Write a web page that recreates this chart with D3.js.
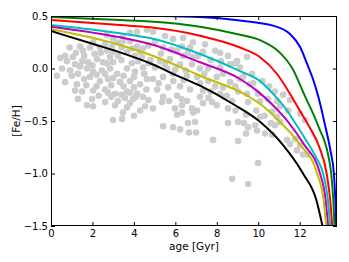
<!DOCTYPE html>
<html><head><meta charset="utf-8">
<script src="https://cdn.jsdelivr.net/npm/d3@7"></script>
<style>body{margin:0;background:#fff;} text{font-family:"DejaVu Sans",sans-serif;fill:#000;}</style>
</head><body><svg id="c" width="349" height="262"></svg>
<script>
const xTicks=[0,2,4,6,8,10,12];
const yTicks=[-1.5,-1.0,-0.5,0.0,0.5];

const starAge=[0.68,0.77,1.06,1.40,1.54,1.88,2.03,2.36,2.61,2.94,3.19,3.47,3.81,4.15,4.44,1.16,1.50,1.79,2.22,2.51,2.85,3.23,3.67,4.05,4.39,0.53,0.92,1.30,1.74,2.03,2.46,2.85,3.19,3.67,4.05,4.44,0.68,1.25,1.88,2.36,2.75,3.33,3.81,4.30,4.63,1.50,2.03,2.61,3.09,3.67,4.15,1.30,1.98,2.61,3.23,3.96,4.44,0.29,1.16,1.74,2.03,2.75,3.09,3.57,3.81,4.10,3.81,3.67,3.47,3.43,2.99,4.54,4.92,5.50,5.89,6.37,6.85,7.43,7.92,8.54,8.98,9.46,5.02,5.41,6.08,6.32,6.71,7.34,6.85,6.37,5.74,5.26,5.02,5.60,6.23,6.80,7.19,7.58,8.16,8.64,4.92,5.41,5.89,6.56,7.05,7.58,8.30,5.12,5.65,6.23,6.71,7.34,7.92,8.64,9.12,5.41,6.08,6.56,7.19,8.49,9.03,8.74,5.36,4.92,5.98,6.32,6.08,6.32,6.80,6.85,7.05,6.95,6.61,5.41,5.89,6.23,6.66,7.00,7.82,7.77,8.54,8.54,9.03,9.31,9.41,9.03,8.74,9.51,8.16,8.35,7.34,9.94,10.33,10.67,9.99,11.53,11.78,12.02,12.16,12.36,9.51,9.85,10.81,11.05,11.39,11.87,9.12,9.27,9.60,9.46,9.99,10.09,9.51,10.52,10.47,10.91,11.05,10.67,10.91,11.44,12.02,10.09,9.75,11.53,12.26,3.81,4.15,4.63,3.47,2.99,8.16,8.88,2.70,
 1.2,1.6,2.1,2.4,2.7,3.0,3.4,3.9,4.3,4.7,1.4,2.0,2.7,3.0,3.4,3.9,4.2,4.7,1.0,1.6,2.2,2.6,3.0,3.5,4.0,4.5,4.8,1.7,2.2,2.9,3.5,4.0,4.6,2.3,2.9,3.4,4.7,4.3,4.0,5.3,5.8,6.6,7.1,7.7,8.2,5.5,6.0,6.5,7.4,8.0,5.2,5.9,6.4,7.2,7.7,8.3,8.9,5.7,6.3,7.6,8.0,8.9,9.4,9.9,10.3,10.6,9.7,10.2,10.8,11.2,0.45,0.9];
const starFeH=[0.12,0.07,0.11,0.21,0.17,0.20,0.25,0.20,0.23,0.21,0.25,0.26,0.26,0.21,0.19,0.04,0.07,0.06,0.09,0.06,0.11,0.12,0.16,0.12,0.11,0.00,-0.02,-0.05,0.00,-0.03,-0.02,0.00,-0.05,0.00,-0.03,0.01,-0.13,-0.15,-0.08,-0.12,-0.10,-0.13,-0.12,-0.15,-0.10,-0.22,-0.21,-0.20,-0.24,-0.22,-0.24,-0.29,-0.29,-0.32,-0.31,-0.29,-0.27,-0.07,-0.21,-0.35,-0.36,-0.23,-0.35,-0.28,-0.23,-0.27,-0.33,-0.37,-0.42,-0.48,-0.49,-0.36,0.35,0.31,0.28,0.29,0.25,0.23,0.17,0.12,0.07,0.11,0.26,0.20,0.17,0.21,0.20,0.16,0.11,0.12,0.09,0.07,0.01,0.00,0.04,0.04,0.00,0.00,0.01,0.04,-0.10,-0.08,-0.05,-0.07,-0.08,-0.12,-0.05,-0.20,-0.18,-0.17,-0.20,-0.21,-0.17,-0.13,-0.10,-0.27,-0.26,-0.31,-0.27,-0.26,-0.22,-0.31,-0.32,-0.38,-0.38,-0.35,-0.44,-0.42,-0.38,-0.42,-0.40,-0.51,-0.52,-0.55,-0.56,-0.58,-0.61,-0.61,-0.68,-0.32,-0.38,-0.52,-0.51,-0.52,-0.62,-0.69,-1.05,-1.10,-0.24,-0.27,-0.33,-0.59,-0.62,-0.63,-0.90,-0.72,-0.67,-0.73,-0.82,-0.82,-0.56,-0.54,-0.54,-0.51,-0.68,-0.78,0.01,-0.08,-0.15,-0.24,-0.24,-0.31,-0.32,-0.17,-0.29,-0.31,-0.36,-0.41,-0.46,-0.40,-0.43,-0.46,-0.14,-0.30,-0.49,0.34,0.35,0.37,0.30,0.29,0.15,0.05,0.32,
 0.15,0.12,0.14,0.15,0.17,0.16,0.20,0.19,0.16,0.22,0.02,0.03,0.05,0.06,0.08,0.05,0.07,0.05,-0.07,-0.10,-0.06,-0.05,-0.09,-0.07,-0.08,-0.05,0.08,-0.16,-0.17,-0.16,-0.17,-0.18,-0.20,-0.26,-0.27,-0.25,-0.30,-0.40,-0.45,0.14,0.18,0.15,0.12,0.08,0.07,0.04,-0.01,-0.02,-0.05,-0.08,-0.14,-0.12,-0.11,-0.14,-0.22,-0.18,-0.17,-0.31,-0.29,-0.28,-0.35,-0.40,-0.44,-0.40,-0.45,-0.52,-0.05,-0.12,-0.22,-0.25,0.10,0.20];

const blueAge=[0,2,4.3,7.19,9.12,10.71,11.53,12.02,12.36,12.64,12.9,13.2,13.5,13.65,13.72,13.76];
const blueFeH=[0.52,0.515,0.503,0.49,0.457,0.408,0.329,0.205,0.043,-0.10,-0.27,-0.52,-0.80,-1.0,-1.25,-1.5];
const greenAge=[0,3.33,4.78,7.19,9.12,10.09,11.05,11.65,12.2,12.9,13.4,13.52,13.62,13.68];
const greenFeH=[0.49,0.462,0.448,0.398,0.322,0.27,0.15,0.0,-0.24,-0.55,-0.85,-1.0,-1.25,-1.5];
const redAge=[0,3.33,4.78,7.19,9.12,10.09,10.9,11.53,12.0,12.45,12.95,13.3,13.47,13.57];
const redFeH=[0.462,0.414,0.392,0.312,0.2,0.107,-0.05,-0.24,-0.40,-0.55,-0.75,-1.0,-1.25,-1.5];
const cyanAge=[0,3.33,4.78,7.19,9.12,10.09,10.71,11.39,11.75,12.3,12.8,13.13,13.36,13.47];
const cyanFeH=[0.414,0.335,0.29,0.138,-0.025,-0.12,-0.24,-0.40,-0.51,-0.68,-0.85,-1.0,-1.25,-1.5];
const magentaAge=[0,3.33,4.78,7.19,9.12,9.93,10.71,11.45,12.2,12.98,13.25,13.37];
const magentaFeH=[0.398,0.297,0.233,0.059,-0.10,-0.211,-0.35,-0.51,-0.72,-1.0,-1.25,-1.5];
const yellowAge=[0,3.33,4.78,7.19,9.6,10.3,11.0,12.0,12.84,13.15,13.28];
const yellowFeH=[0.373,0.224,0.131,-0.069,-0.274,-0.37,-0.50,-0.72,-1.0,-1.25,-1.5];
const blackAge=[0,2,3.33,4.78,6,7.19,8.78,10.1,11.2,12.16,12.8,13.1];
const blackFeH=[0.357,0.235,0.154,0.05,-0.06,-0.164,-0.338,-0.51,-0.73,-1.0,-1.25,-1.5];

const curves=[
 {color:"#0000ff",age:blueAge,feh:blueFeH},
 {color:"#008000",age:greenAge,feh:greenFeH},
 {color:"#ff0000",age:redAge,feh:redFeH},
 {color:"#00bfbf",age:cyanAge,feh:cyanFeH},
 {color:"#bf00bf",age:magentaAge,feh:magentaFeH},
 {color:"#bfbf00",age:yellowAge,feh:yellowFeH},
 {color:"#000000",age:blackAge,feh:blackFeH}
];

const L=51,R=337,T=16,B=226;
const x=d3.scaleLinear().domain([0,13.8]).range([L,R]);
const y=d3.scaleLinear().domain([-1.5,0.5]).range([B,T]);
const svg=d3.select("#c");
svg.append("defs").append("clipPath").attr("id","clip").append("rect")
  .attr("x",L).attr("y",T).attr("width",R-L).attr("height",B-T);

const plot=svg.append("g").attr("clip-path","url(#clip)");
plot.selectAll("circle").data(starAge.map((a,i)=>[a,starFeH[i]])).enter().append("circle")
  .attr("cx",d=>x(d[0])).attr("cy",d=>y(d[1])).attr("r",3.3).attr("fill","#cccccc");

const line=d3.line().x(d=>x(d[0])).y(d=>y(d[1])).curve(d3.curveMonotoneX);
curves.forEach(c=>{
  plot.append("path").attr("d",line(c.age.map((a,i)=>[a,c.feh[i]])))
   .attr("fill","none").attr("stroke",c.color).attr("stroke-width",2);
});

const fmtY=d3.format(".1f");
const ax=svg.append("g");
ax.append("g").attr("transform",`translate(0,${B})`)
  .call(d3.axisBottom(x).tickValues(xTicks).tickSize(-4).tickPadding(4).tickFormat(d3.format("d")));
ax.append("g").attr("transform",`translate(0,${T})`)
  .call(d3.axisTop(x).tickValues(xTicks).tickSize(-4).tickFormat(""));
ax.append("g").attr("transform",`translate(${L},0)`)
  .call(d3.axisLeft(y).tickValues(yTicks).tickSize(-4).tickPadding(3).tickFormat(fmtY));
ax.append("g").attr("transform",`translate(${R},0)`)
  .call(d3.axisRight(y).tickValues(yTicks).tickSize(-4).tickFormat(""));
ax.selectAll(".domain").remove();
ax.selectAll("text").attr("font-size","10px").attr("font-family","DejaVu Sans");
ax.selectAll("line").attr("stroke","#000");
svg.append("rect").attr("x",L+0.5).attr("y",T+0.5).attr("width",R-L-1).attr("height",B-T-1)
  .attr("fill","none").attr("stroke","#000").attr("stroke-width",1);

svg.append("text").attr("x",(L+R)/2).attr("y",250).attr("text-anchor","middle")
  .attr("font-size","10.5px").text("age [Gyr]");
svg.append("text").attr("transform",`translate(20,${(T+B)/2}) rotate(-90)`).attr("text-anchor","middle")
  .attr("font-size","10.5px").text("[Fe/H]");
</script></body></html>
